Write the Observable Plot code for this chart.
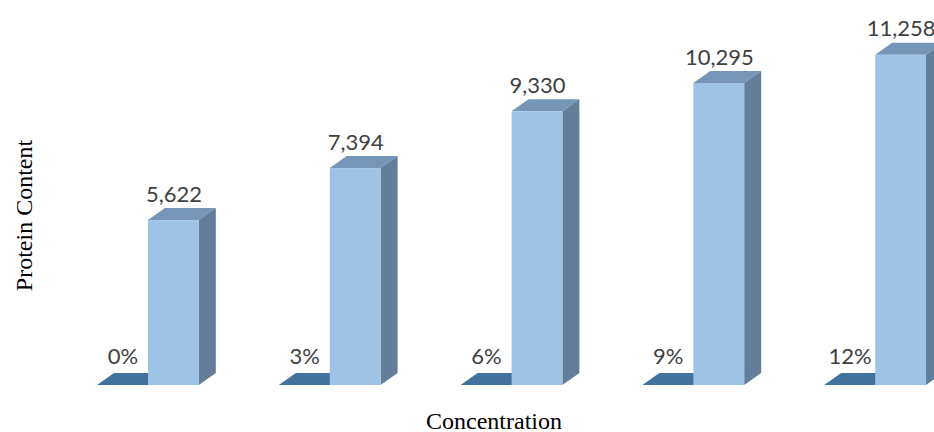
<!DOCTYPE html>
<html>
<head>
<meta charset="utf-8">
<script src="https://cdn.jsdelivr.net/npm/d3@7"></script>
<script src="https://cdn.jsdelivr.net/npm/@observablehq/plot@0.6"></script>
<style>
  html, body { margin: 0; padding: 0; background: #fff; overflow: hidden; }
  #chart svg { display: block; }
</style>
</head>
<body>
<div id="chart"></div>
<script>
// ---- data ----
const concentrations = ["0%", "3%", "6%", "9%", "12%"];
const proteinContent = [5622, 7394, 9330, 10295, 11258];
const valueLabels = ["5,622", "7,394", "9,330", "10,295", "11,258"];
const xTitle = "Concentration";
const yTitle = "Protein Content";

const data = concentrations.map((c, i) => ({c, v: proteinContent[i], label: valueLabels[i]}));

// ---- style ----
const FRONT = "#9dc3e6", TOP = "#7696b9", SIDE = "#637e9b", FLAT = "#41719c";
const DX = 17, DY = -12;        // 3-D depth offset in px
const HALF = 51;                // half band width (px) used for label offsets
const labelFont = "Lato, 'Open Sans', sans-serif";

// 3-D faces drawn through Plot's scales
function depthFaces(index, scales) {
  const x = scales.x, y = scales.y;
  const bw = x.bandwidth();
  const g = d3.create("svg:g");
  const y0 = y(0);
  for (const d of data) {
    const x0 = x(d.c), half = bw / 2;
    // flat (category) bar top face
    g.append("polygon")
      .attr("points", [[x0, y0], [x0 + half, y0], [x0 + half + DX, y0 + DY], [x0 + DX, y0 + DY]].join(" "))
      .attr("fill", FLAT);
    const L = x0 + half, R = x0 + bw, yt = y(d.v);
    g.append("polygon")
      .attr("points", [[L, yt], [R, yt], [R + DX, yt + DY], [L + DX, yt + DY]].join(" "))
      .attr("fill", TOP);
    g.append("polygon")
      .attr("points", [[R, yt], [R + DX, yt + DY], [R + DX, y0 + DY], [R, y0]].join(" "))
      .attr("fill", SIDE);
  }
  return g.node();
}

const chart = Plot.plot({
  width: 934,
  height: 432,
  marginLeft: 97,
  marginRight: 8,
  marginTop: 33,
  marginBottom: 47,
  style: {background: "#fff", overflow: "visible"},
  x: {domain: concentrations, paddingInner: 0.44, paddingOuter: 0, round: false, axis: null},
  y: {domain: [0, 12000], axis: null},
  marks: [
    depthFaces,
    Plot.barY(data, {x: "c", y: "v", fill: FRONT, insetLeft: HALF}),
    Plot.text(data, {x: "c", y: "v", text: "label", dx: HALF / 2, dy: -19, lineAnchor: "bottom",
      fill: "#404040", fontSize: 22, fontFamily: labelFont}),
    Plot.text(data, {x: "c", y: () => 0, text: "c", dx: -HALF / 2, dy: -22, lineAnchor: "bottom",
      fill: "#404040", fontSize: 22, fontFamily: labelFont}),
    Plot.text([xTitle], {frameAnchor: "bottom", text: d => d, textAnchor: "middle", dx: -18, dy: 43, lineAnchor: "bottom",
      fill: "#000", fontSize: 24, fontFamily: "'Liberation Serif', 'Times New Roman', serif"}),
    Plot.text([yTitle], {frameAnchor: "left", text: d => d, textAnchor: "middle", rotate: -90, dx: -66, dy: 6, lineAnchor: "bottom",
      fill: "#000", fontSize: 24, fontFamily: "'Liberation Serif', 'Times New Roman', serif"})
  ]
});
document.getElementById("chart").append(chart);
</script>
</body>
</html>
